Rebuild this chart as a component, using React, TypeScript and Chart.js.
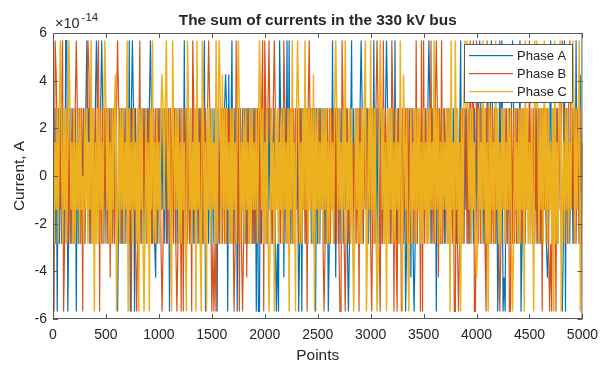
import React, { useEffect, useRef } from "react";
import { Chart, registerables } from "chart.js";

Chart.register(...registerables);

// ---- data -------------------------------------------------------------
const LEVEL = 1.4210854715202004e-14; // one quantisation step (2^-46)
const TOTAL_POINTS = 5000;

const xTickValues = [0, 500, 1000, 1500, 2000, 2500, 3000, 3500, 4000, 4500, 5000];
const yTickValues = [-6e-14, -4e-14, -2e-14, 0, 2e-14, 4e-14, 6e-14];

const seriesNames = ["Phase A", "Phase B", "Phase C"];
const seriesColors = ["#0072BD", "#D95319", "#EDB120"];
const seriesWidths = [1.2, 1.2, 1.5];

// in-band samples (every 10th point), code = level + 2  (0 = -2 steps ... 4 = +2 steps)
const phaseA_band = [
  "04041404034040414040340404041404034040414040340404",
  "14040434040414040404304041404040340404041404040340",
  "40414040340404140404034040414040403040414040414034",
  "04040340404140404034040414040434040414040403404041",
  "40404140340404043404140404040413404041404034040414",
  "04041404034041404034040404140403404041404040341404",
  "04140404034040414040340401404040340404140404034040",
  "41404040340404140404034040414140403404041404034040",
  "40414040340404140403404041404034040414040340404141",
  "40403414040404140403404140403404040414034040414040",
  "3",
].join("");

const phaseB_band = [
  "40403041404041404034040414040403404041404034040414",
  "04041404034041404034040404140403404141404040340404",
  "14040434040414040403404041404034040414040403404041",
  "40404140340404043404140404140403404041404034040414",
  "04040340404140404034040414040434040414040403404041",
  "40414040340404140404034040414040403040414040414034",
  "04140404034040414040340401404040340404140404034040",
  "40403414040404140403404140403404040414034040414040",
  "14040434040414040404304041404040340404041404040340",
  "41404040340404140404034040414140403404041404034040",
  "0",
].join("");

const phaseC_band = [
  "40314041304140304130403140412041403140413040413040",
  "41403041403140414031404130413040414031403041403041",
  "30404140314040314140304130404140314041304140304140",
  "41304041403140413040413041403140413040413140304140",
  "30414041304140314041304041403141403041314041403041",
  "40314041403041304041413041403140403141403041403041",
  "31404140304140314041403041304140314041403140414030",
  "41304041314041403041314040413041403140414031404130",
  "40413041403140413041403041403141403041304041403140",
  "30414041304140314041304140304041304140314040413041",
  "3",
].join("");

// excursions outside the band (point index)
const phaseA_spikesUp = [122, 132, 320, 414, 461, 724, 752, 921, 1241, 1429, 1692, 2143, 2209, 2228, 2641, 2820, 2914, 3027, 3149, 3234, 3553, 3845, 4033, 4136, 4221, 4239, 4343, 4409, 4700, 4832, 4935];
const phaseA_spikesUpMid = [1626, 1664, 4982];
const phaseA_spikesDown = [38, 140, 216, 611, 733, 771, 1100, 1437, 1551, 1645, 1739, 1918, 1936, 1946, 2106, 2134, 2322, 2350, 2482, 2604, 2792, 3328, 3412, 3619, 4202, 4245, 4268, 4418, 4813, 4841];
const phaseA_spikesDownMid = [968, 2181, 2670, 3375, 4258, 4672];

const phaseB_spikesUp = [19, 85, 216, 329, 432, 611, 818, 1316, 1466, 1730, 1983, 2002, 2040, 2087, 2181, 2416, 2726, 3055, 3121, 3196, 3431, 3478, 3497, 3572, 3619, 3666, 3939, 3967, 3995, 4098, 4503, 4813, 4879];
const phaseB_spikesUpMid = [25, 338, 420];
const phaseB_spikesDown = [8, 100, 282, 442, 743, 790, 1034, 1166, 1213, 1231, 1307, 1504, 1523, 1542, 1711, 1758, 1786, 1993, 2397, 2557, 2707, 2717, 2764, 2886, 3008, 3093, 3215, 3252, 3290, 3468, 3488, 3788, 3798, 3826, 3976, 3986, 4090, 4221, 4305, 4315, 4615, 4691, 4709, 4747];
const phaseB_spikesDownMid = [536, 1833, 3638];

const phaseC_spikesUp = [66, 150, 357, 489, 696, 940, 1072, 1128, 1269, 1363, 1410, 1542, 1570, 1748, 1946, 2256, 2312, 2378, 2670, 2764, 2952, 2999, 3093, 3281, 3600, 3760, 3798, 3892, 3910, 4061, 4183, 4456, 4550, 4568, 4644, 4738, 4785, 4907, 4973];
const phaseC_spikesUpMid = [592, 1034, 1598, 2463, 3309];
const phaseC_spikesDown = [385, 600, 712, 808, 855, 912, 1120, 1260, 1354, 1401, 1448, 2040, 2087, 2228, 2294, 2471, 2839, 2960, 3055, 3149, 3300, 3356, 3751, 3845, 4108, 4343, 4446, 4542, 4728, 4800, 4982];
const phaseC_spikesDownMid = [3995];

// ---- build series ------------------------------------------------------
function buildSeries(band: string, up: number[], upMid: number[], down: number[], downMid: number[]) {
  const codes = band.split("").map((c) => Number(c) - 2);
  const step = TOTAL_POINTS / (codes.length - 1);
  const put = (list: number[], k: number) =>
    list.forEach((i) => {
      const j = Math.min(codes.length - 1, Math.round(i / step));
      codes[j] = k;
    });
  put(up, 4);
  put(upMid, 3);
  put(down, -4);
  put(downMid, -3);
  return codes.map((k, j) => ({ x: j * step, y: k * LEVEL }));
}

const FONT = "'Liberation Sans', Arial, Helvetica, sans-serif";
const TEXT = "#262626";

const decorPlugin = {
  id: "decor",
  afterDraw(chart: any) {
    const { ctx, chartArea: a, scales } = chart;
    const xs = scales.x;
    const ys = scales.y;
    ctx.save();
    // axes box
    ctx.strokeStyle = "#5a5a5a";
    ctx.lineWidth = 1;
    ctx.strokeRect(a.left + 0.5, a.top + 0.5, a.right - a.left - 1, a.bottom - a.top - 1);
    // inward ticks
    ctx.beginPath();
    const TL = 5;
    xTickValues.forEach((v) => {
      const px = Math.round(xs.getPixelForValue(v)) + 0.5;
      ctx.moveTo(px, a.bottom);
      ctx.lineTo(px, a.bottom - TL);
      ctx.moveTo(px, a.top);
      ctx.lineTo(px, a.top + TL);
    });
    yTickValues.forEach((v) => {
      const py = Math.round(ys.getPixelForValue(v)) + 0.5;
      ctx.moveTo(a.left, py);
      ctx.lineTo(a.left + TL, py);
      ctx.moveTo(a.right, py);
      ctx.lineTo(a.right - TL, py);
    });
    ctx.stroke();

    ctx.fillStyle = TEXT;
    // title
    ctx.font = `bold 15.4px ${FONT}`;
    ctx.textAlign = "center";
    ctx.textBaseline = "alphabetic";
    ctx.fillText("The sum of currents in the 330 kV bus", (a.left + a.right) / 2, 25);
    // x label
    ctx.font = `15.4px ${FONT}`;
    ctx.fillText("Points", (a.left + a.right) / 2, 360);
    // y label
    ctx.save();
    ctx.translate(24, (a.top + a.bottom) / 2);
    ctx.rotate(-Math.PI / 2);
    ctx.fillText("Current, A", 0, 0);
    ctx.restore();
    // exponent
    ctx.textAlign = "left";
    ctx.font = `14.5px ${FONT}`;
    const base = "\u00d710";
    ctx.fillText(base, 55, 28);
    const w = ctx.measureText(base).width;
    ctx.font = `11.5px ${FONT}`;
    ctx.fillText("-14", 55 + w + 2, 21);

    // legend
    const lx = 464, ly = 44, lw = 109, lh = 59;
    ctx.fillStyle = "#ffffff";
    ctx.fillRect(lx, ly, lw, lh);
    ctx.strokeStyle = "#5a5a5a";
    ctx.lineWidth = 1;
    ctx.strokeRect(lx + 0.5, ly + 0.5, lw - 1, lh - 1);
    ctx.font = `13px ${FONT}`;
    ctx.textBaseline = "middle";
    seriesNames.forEach((name, i) => {
      const y = 55 + i * 18;
      ctx.fillStyle = seriesColors[i];
      ctx.fillRect(469, y, 44, 1.2);
      ctx.fillStyle = TEXT;
      ctx.fillText(name, 517, y + 1);
    });
    ctx.restore();
  },
};

export default function App() {
  const ref = useRef<HTMLCanvasElement | null>(null);

  useEffect(() => {
    const canvas = ref.current;
    if (!canvas) return;
    const series = [
      buildSeries(phaseA_band, phaseA_spikesUp, phaseA_spikesUpMid, phaseA_spikesDown, phaseA_spikesDownMid),
      buildSeries(phaseB_band, phaseB_spikesUp, phaseB_spikesUpMid, phaseB_spikesDown, phaseB_spikesDownMid),
      buildSeries(phaseC_band, phaseC_spikesUp, phaseC_spikesUpMid, phaseC_spikesDown, phaseC_spikesDownMid),
    ];
    const chart = new Chart(canvas, {
      type: "line",
      data: {
        datasets: series.map((d, i) => ({
          label: seriesNames[i],
          data: d,
          borderColor: seriesColors[i],
          borderWidth: seriesWidths[i],
          pointRadius: 0,
          tension: 0,
          fill: false,
          order: 2 - i,
        })),
      },
      options: {
        animation: false,
        responsive: false,
        devicePixelRatio: 1,
        events: [],
        layout: { padding: { left: 0, top: 33, right: 21, bottom: 0 } },
        plugins: {
          legend: { display: false },
          title: { display: false },
          tooltip: { enabled: false },
        },
        scales: {
          x: {
            type: "linear",
            min: 0,
            max: TOTAL_POINTS,
            afterBuildTicks: (s: any) => {
              s.ticks = xTickValues.map((v) => ({ value: v }));
            },
            afterFit: (s: any) => {
              s.height = 46;
            },
            grid: { display: false, drawTicks: false },
            border: { display: false },
            ticks: {
              autoSkip: false,
              maxRotation: 0,
              padding: 8,
              color: TEXT,
              font: { family: FONT, size: 14 },
              callback: (v: any) => String(v),
            },
          },
          y: {
            type: "linear",
            min: -6e-14,
            max: 6e-14,
            afterBuildTicks: (s: any) => {
              s.ticks = yTickValues.map((v) => ({ value: v }));
            },
            afterFit: (s: any) => {
              s.width = 53;
            },
            grid: { display: false, drawTicks: false },
            border: { display: false },
            ticks: {
              padding: 6,
              color: TEXT,
              font: { family: FONT, size: 14 },
              callback: (v: any) => String(Math.round(Number(v) / 1e-14)),
            },
          },
        },
      },
      plugins: [decorPlugin],
    });
    return () => chart.destroy();
  }, []);

  return (
    <div style={{ position: "fixed", left: 0, top: 0, width: 606, height: 365, background: "#fff" }}>
      <canvas ref={ref} width={606} height={365} style={{ display: "block", width: 606, height: 365 }} />
    </div>
  );
}
